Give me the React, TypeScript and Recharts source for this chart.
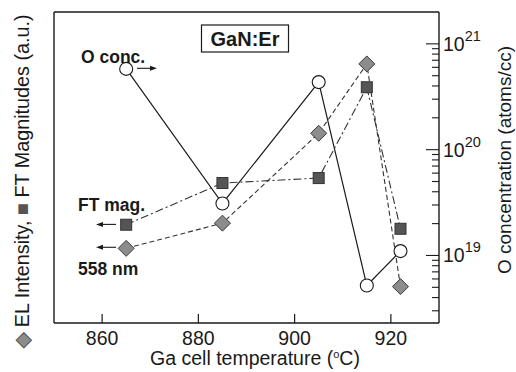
import React from 'react';
import {
  ComposedChart,
  Line,
  XAxis,
  YAxis,
} from 'recharts';

// Ga cell temperature (°C)
const temps = [865, 885, 905, 915, 922];
// O concentration (atoms/cc), right log axis
const oConc = [5.8e20, 3.1e19, 4.35e20, 5.2e18, 1.1e19];
// FT magnitudes (a.u.), left axis
const ftMag = [31.6, 45.0, 46.6, 75.8, 30.3];
// EL intensity at 558 nm (a.u.), left axis
const elInt = [24.0, 32.1, 61.0, 83.3, 11.7];

const xTicks = [860, 880, 900, 920];
const logMajor = [1e19, 1e20, 1e21];
const logTicks = [
  3e18, 4e18, 5e18, 6e18, 7e18, 8e18, 9e18,
  1e19, 2e19, 3e19, 4e19, 5e19, 6e19, 7e19, 8e19, 9e19,
  1e20, 2e20, 3e20, 4e20, 5e20, 6e20, 7e20, 8e20, 9e20,
  1e21,
];

const data = temps.map((t, i) => ({ temp: t, oConc: oConc[i], ftMag: ftMag[i], el: elInt[i] }));

const FONT = '"Liberation Sans", Arial, Helvetica, sans-serif';
const INK = '#1a1a1a';

const XTick = ({ x, y, payload }: any) => (
  <g>
    <line x1={x} x2={x} y1={y} y2={y - 9} stroke={INK} strokeWidth={1.2} />
    <text x={x} y={y + 22} textAnchor="middle" fontSize={19.5} fontFamily={FONT} fill={INK}>
      {payload.value}
    </text>
  </g>
);

const RightTick = ({ x, y, payload }: any) => {
  const v = payload.value;
  const exp = Math.round(Math.log10(v));
  const major = logMajor.includes(v);
  return (
    <g>
      <line x1={x} x2={x - (major ? 13 : 7)} y1={y} y2={y} stroke={INK} strokeWidth={1.1} />
      {major && (
        <text x={x + 4} y={y + 7} fontSize={19.5} fontFamily={FONT} fill={INK}>
          10
          <tspan dy={-10} fontSize={14.5}>{exp}</tspan>
        </text>
      )}
    </g>
  );
};

const CircleDot = ({ cx, cy }: any) => (
  <circle cx={cx} cy={cy} r={6.5} fill="#fff" stroke={INK} strokeWidth={1.1} />
);

const SquareDot = ({ cx, cy }: any) => (
  <rect x={cx - 5.5} y={cy - 5.5} width={11} height={11} fill="#555" stroke="#333" strokeWidth={1} />
);

const DiamondDot = ({ cx, cy }: any) => (
  <polygon
    points={`${cx},${cy - 8} ${cx + 8},${cy} ${cx},${cy + 8} ${cx - 8},${cy}`}
    fill="#8c8c8c"
    stroke="#3a3a3a"
    strokeWidth={1}
  />
);

const Arrow = ({ x1, x2, y }: { x1: number; x2: number; y: number }) => {
  const dir = x2 > x1 ? 1 : -1;
  return (
    <g>
      <line x1={x1} x2={x2 - dir * 5} y1={y} y2={y} stroke={INK} strokeWidth={1.1} />
      <polygon points={`${x2},${y} ${x2 - dir * 7},${y - 2.5} ${x2 - dir * 7},${y + 2.5}`} fill={INK} />
    </g>
  );
};

export default function App() {
  return (
    <div style={{ position: 'absolute', left: 0, top: 0, width: 516, height: 372, background: '#fff' }}>
      <ComposedChart
        width={516}
        height={372}
        data={data}
        margin={{ top: 12, right: 0, bottom: 0, left: 0 }}
      >
        <XAxis
          dataKey="temp"
          type="number"
          domain={[850, 930]}
          ticks={xTicks}
          interval={0}
          height={49}
          tickSize={0}
          tickMargin={0}
          tick={<XTick />}
          stroke={INK}
          strokeWidth={1.4}
        />
        <YAxis
          yAxisId="left"
          orientation="left"
          domain={[0, 100]}
          width={54}
          tick={false}
          tickLine={false}
          stroke={INK}
          strokeWidth={1.4}
        />
        <YAxis
          yAxisId="right"
          orientation="right"
          scale="log"
          domain={[2.3e18, 2e21]}
          allowDataOverflow
          ticks={logTicks}
          interval={0}
          width={77}
          tickSize={0}
          tickMargin={0}
          tick={<RightTick />}
          stroke={INK}
          strokeWidth={1.4}
        />
        {/* top frame line */}
        <line x1={54} x2={439} y1={12} y2={12} stroke={INK} strokeWidth={1.4} />

        <Line
          yAxisId="right"
          dataKey="oConc"
          stroke={INK}
          strokeWidth={1.2}
          dot={<CircleDot />}
          isAnimationActive={false}
        />
        <Line
          yAxisId="left"
          dataKey="ftMag"
          stroke="#333"
          strokeWidth={1.1}
          strokeDasharray="8 3 2 3"
          dot={<SquareDot />}
          isAnimationActive={false}
        />
        <Line
          yAxisId="left"
          dataKey="el"
          stroke="#333"
          strokeWidth={1.1}
          strokeDasharray="5 3"
          dot={<DiamondDot />}
          isAnimationActive={false}
        />

        {/* annotations */}
        <rect x={201.5} y={25} width={87} height={27} fill="#fff" stroke={INK} strokeWidth={1.2} />
        <text x={245} y={46} textAnchor="middle" fontSize={20} fontWeight="bold" fontFamily={FONT} fill={INK}>
          GaN:Er
        </text>
        <text x={81} y={63} fontSize={17.5} fontWeight="bold" fontFamily={FONT} fill={INK}>O conc.</text>
        <Arrow x1={137} x2={157} y={68.3} />
        <text x={78} y={211} fontSize={17.5} fontWeight="bold" fontFamily={FONT} fill={INK}>FT mag.</text>
        <Arrow x1={116} x2={96} y={224.4} />
        <Arrow x1={116} x2={96} y={247.3} />
        <text x={78} y={275} fontSize={17.5} fontWeight="bold" fontFamily={FONT} fill={INK}>558 nm</text>

        {/* axis titles */}
        <text x={255} y={365} textAnchor="middle" fontSize={19.5} fontFamily={FONT} fill={INK}>
          Ga cell temperature (
          <tspan dy={-7} fontSize={11}>o</tspan>
          <tspan dy={7}>C)</tspan>
        </text>
        <text
          transform="translate(29,181) rotate(-90)"
          textAnchor="middle"
          fontSize={19.8}
          fontFamily={FONT}
          fill={INK}
        >
          <tspan fill="#8c8c8c" stroke="#3a3a3a" strokeWidth={0.8}>◆</tspan>
          {' EL Intensity, '}
          <tspan fill="#555">■</tspan>
          {' FT Magnitudes (a.u.)'}
        </text>
        <text
          transform="translate(511,160) rotate(-90)"
          textAnchor="middle"
          fontSize={19}
          fontFamily={FONT}
          fill={INK}
        >
          O concentration (atoms/cc)
        </text>
      </ComposedChart>
    </div>
  );
}
